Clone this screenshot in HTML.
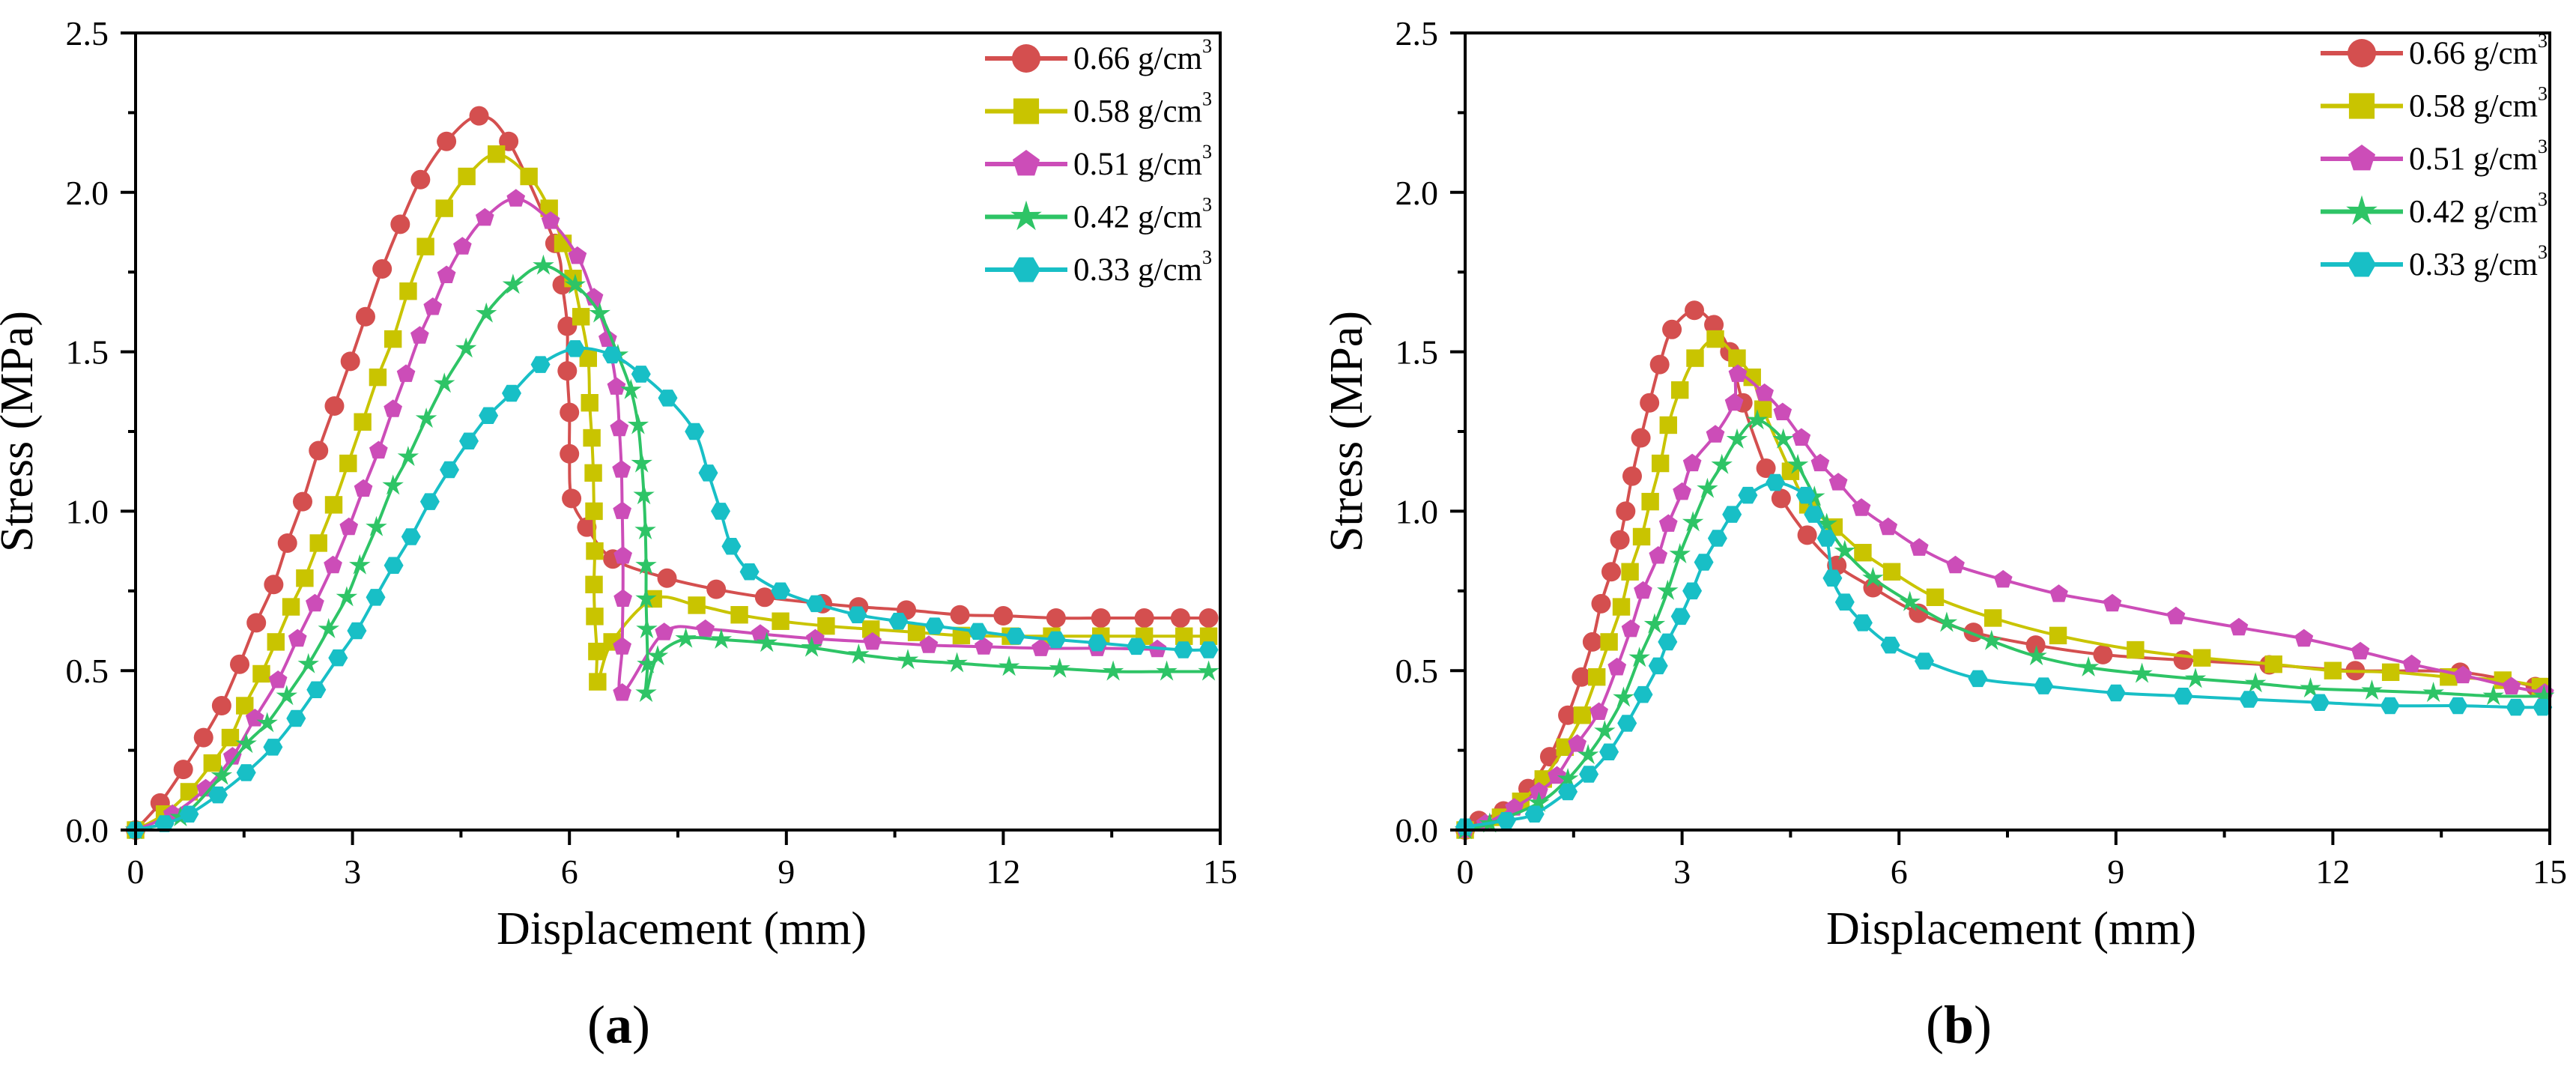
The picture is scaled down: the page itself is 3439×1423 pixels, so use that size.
<!DOCTYPE html>
<html><head><meta charset="utf-8"><style>
html,body{margin:0;padding:0;background:#fff}
svg{display:block}
text{font-family:"Liberation Serif",serif;fill:#000}
</style></head><body>
<svg id="fig" width="3439" height="1423" viewBox="0 0 3439 1423" xmlns="http://www.w3.org/2000/svg"></svg>
<script>
const xTicks=[0,3,6,9,12,15];
const yTicks=[0.0,0.5,1.0,1.5,2.0,2.5];
const yTickLabels=["0.0","0.5","1.0","1.5","2.0","2.5"];
const seriesNames=["0.66","0.58","0.51","0.42","0.33"];
const seriesColors=["#d44f4f","#c9c400","#cc4db8","#2ec466","#18bfc6"];
const seriesShapes=["circle","square","pentagon","star","hexagon"];

// Panel (a)
const aRedX=[0,0.34,0.66,0.94,1.19,1.44,1.67,1.91,2.10,2.31,2.53,2.75,2.97,3.18,3.41,3.66,3.94,4.30,4.75,5.16,5.8,5.9,5.97,5.97,6.0,6.0,6.03,6.24,6.6,7.35,8.03,8.7,9.5,10.0,10.66,11.4,12.0,12.73,13.35,13.95,14.45,14.84];
const aRedY=[0,0.085,0.19,0.29,0.39,0.52,0.65,0.77,0.90,1.03,1.19,1.33,1.47,1.61,1.76,1.90,2.04,2.16,2.24,2.16,1.84,1.71,1.58,1.44,1.31,1.18,1.04,0.95,0.85,0.79,0.755,0.73,0.71,0.70,0.69,0.675,0.672,0.665,0.665,0.665,0.665,0.665];
const aYelX=[0,0.4,0.74,1.06,1.31,1.51,1.74,1.94,2.15,2.34,2.53,2.74,2.94,3.14,3.35,3.56,3.77,4.01,4.27,4.58,4.99,5.44,5.72,5.91,6.05,6.16,6.26,6.28,6.31,6.33,6.34,6.35,6.34,6.35,6.38,6.39,6.59,7.16,7.76,8.35,8.92,9.55,10.17,10.8,11.42,12.1,12.67,13.35,13.95,14.5,14.84];
const aYelY=[0,0.05,0.12,0.21,0.29,0.39,0.49,0.59,0.70,0.79,0.90,1.02,1.15,1.28,1.42,1.54,1.69,1.83,1.95,2.05,2.12,2.05,1.95,1.84,1.73,1.61,1.48,1.34,1.23,1.12,1.0,0.875,0.77,0.67,0.56,0.465,0.59,0.725,0.705,0.675,0.655,0.64,0.63,0.62,0.61,0.608,0.608,0.608,0.608,0.608,0.608];
const aMagX=[0,0.51,0.97,1.34,1.65,1.97,2.24,2.48,2.73,2.95,3.15,3.36,3.56,3.74,3.93,4.11,4.30,4.52,4.83,5.26,5.74,6.11,6.34,6.53,6.65,6.69,6.72,6.73,6.74,6.74,6.73,6.73,7.31,7.88,8.64,9.4,10.19,10.97,11.73,12.52,13.3,14.13];
const aMagY=[0,0.05,0.13,0.23,0.35,0.47,0.60,0.71,0.83,0.95,1.07,1.19,1.32,1.43,1.55,1.64,1.74,1.83,1.92,1.98,1.91,1.80,1.67,1.54,1.39,1.26,1.13,1.00,0.86,0.725,0.575,0.43,0.62,0.63,0.615,0.60,0.59,0.58,0.575,0.57,0.57,0.567];
const aGrnX=[0,0.62,1.19,1.53,1.82,2.09,2.39,2.67,2.92,3.10,3.33,3.56,3.77,4.02,4.27,4.57,4.85,5.22,5.64,6.08,6.42,6.67,6.85,6.95,7.0,7.03,7.05,7.06,7.06,7.07,7.08,7.06,7.22,7.61,8.1,8.73,9.35,10.0,10.68,11.36,12.08,12.78,13.52,14.26,14.84];
const aGrnY=[0,0.04,0.17,0.27,0.335,0.42,0.52,0.63,0.73,0.83,0.95,1.08,1.17,1.29,1.40,1.51,1.62,1.71,1.77,1.71,1.62,1.49,1.38,1.27,1.15,1.05,0.94,0.83,0.725,0.63,0.52,0.43,0.545,0.60,0.597,0.587,0.572,0.55,0.533,0.523,0.512,0.506,0.497,0.497,0.497];
const aCynX=[0,0.4,0.74,1.14,1.53,1.9,2.22,2.5,2.8,3.06,3.32,3.57,3.81,4.07,4.34,4.61,4.88,5.2,5.6,6.08,6.59,6.99,7.36,7.73,7.92,8.09,8.24,8.49,8.92,9.41,9.98,10.55,11.05,11.65,12.17,12.73,13.3,13.84,14.49,14.84];
const aCynY=[0,0.02,0.05,0.11,0.18,0.26,0.35,0.44,0.54,0.625,0.73,0.83,0.92,1.03,1.13,1.22,1.30,1.37,1.46,1.51,1.49,1.43,1.355,1.25,1.12,1.0,0.89,0.81,0.75,0.71,0.675,0.655,0.64,0.623,0.608,0.597,0.587,0.576,0.565,0.565];

// Panel (b)
const bRedX=[0,0.19,0.53,0.87,1.17,1.42,1.61,1.76,1.88,2.02,2.14,2.22,2.31,2.43,2.55,2.69,2.86,3.17,3.44,3.66,3.84,4.16,4.37,4.73,5.14,5.64,6.27,7.03,7.89,8.82,9.93,11.12,12.31,13.76,14.8];
const bRedY=[0,0.03,0.06,0.13,0.23,0.36,0.48,0.59,0.71,0.81,0.91,1.0,1.11,1.23,1.34,1.46,1.57,1.63,1.585,1.50,1.34,1.135,1.04,0.925,0.83,0.76,0.68,0.62,0.58,0.55,0.533,0.518,0.50,0.495,0.45];
const bYelX=[0,0.49,0.77,1.08,1.38,1.62,1.82,1.99,2.16,2.28,2.44,2.56,2.70,2.81,2.97,3.18,3.46,3.76,3.97,4.12,4.5,4.74,5.1,5.5,5.9,6.5,7.3,8.2,9.27,10.19,11.18,12.0,12.8,13.6,14.35,14.87];
const bYelY=[0,0.04,0.09,0.16,0.26,0.36,0.48,0.59,0.70,0.81,0.92,1.03,1.15,1.27,1.38,1.48,1.54,1.48,1.42,1.32,1.125,1.02,0.95,0.87,0.81,0.73,0.665,0.61,0.565,0.54,0.52,0.50,0.495,0.48,0.47,0.45];
const bMagX=[0,0.28,0.68,1.02,1.27,1.55,1.85,2.1,2.29,2.46,2.67,2.81,3.0,3.14,3.46,3.72,3.77,4.14,4.39,4.65,4.91,5.16,5.48,5.85,6.28,6.78,7.44,8.21,8.95,9.83,10.7,11.6,12.38,13.09,13.8,14.47,14.93];
const bMagY=[0,0.02,0.07,0.12,0.17,0.27,0.37,0.51,0.63,0.75,0.86,0.96,1.06,1.15,1.24,1.34,1.43,1.37,1.31,1.23,1.15,1.09,1.01,0.95,0.885,0.83,0.785,0.74,0.71,0.67,0.635,0.60,0.56,0.52,0.485,0.45,0.43];
const bGrnX=[0,0.34,1.02,1.42,1.7,1.93,2.19,2.41,2.62,2.80,2.97,3.15,3.35,3.55,3.76,4.04,4.4,4.6,4.83,5.0,5.25,5.64,6.15,6.66,7.28,7.9,8.62,9.36,10.1,10.93,11.69,12.54,13.39,14.22,14.92];
const bGrnY=[0,0.02,0.085,0.16,0.235,0.31,0.415,0.54,0.645,0.75,0.865,0.965,1.07,1.145,1.225,1.285,1.225,1.145,1.045,0.96,0.875,0.79,0.715,0.65,0.593,0.545,0.51,0.49,0.474,0.46,0.444,0.437,0.43,0.42,0.42];
const bCynX=[0,0.57,0.96,1.42,1.71,1.99,2.24,2.46,2.67,2.80,2.98,3.14,3.30,3.49,3.69,3.91,4.29,4.71,4.82,5.0,5.08,5.25,5.5,5.88,6.35,7.09,8.0,9.0,9.93,10.84,11.82,12.79,13.73,14.53,14.9];
const bCynY=[0.01,0.03,0.05,0.12,0.175,0.245,0.335,0.425,0.515,0.59,0.67,0.75,0.84,0.915,0.99,1.05,1.09,1.05,0.99,0.915,0.79,0.715,0.65,0.58,0.53,0.475,0.452,0.43,0.42,0.41,0.40,0.39,0.39,0.385,0.385];

const NS="http://www.w3.org/2000/svg";
const svg=document.getElementById('fig');
function mk(tag,attrs,parent){const e=document.createElementNS(NS,tag);for(const k in attrs)e.setAttribute(k,attrs[k]);(parent||svg).appendChild(e);return e;}

function markerPath(shape,cx,cy,r){
  let pts=[];
  if(shape==="pentagon"){for(let i=0;i<5;i++){const a=-Math.PI/2+i*2*Math.PI/5;pts.push([cx+r*Math.cos(a),cy+r*Math.sin(a)]);}}
  else if(shape==="hexagon"){for(let i=0;i<6;i++){const a=i*Math.PI/3;pts.push([cx+r*Math.cos(a),cy+r*Math.sin(a)]);}}
  else if(shape==="star"){for(let i=0;i<10;i++){const a=-Math.PI/2+i*Math.PI/5;const rr=i%2?r*0.42:r*1.15;pts.push([cx+rr*Math.cos(a),cy+rr*Math.sin(a)]);}}
  return "M"+pts.map(p=>p[0].toFixed(1)+","+p[1].toFixed(1)).join("L")+"Z";
}
function drawMarker(g,shape,cx,cy,r,color){
  let m;
  if(shape==="circle") m=mk('circle',{cx:cx,cy:cy,r:r,fill:color},g);
  else if(shape==="square") m=mk('rect',{x:cx-r*0.9,y:cy-r*0.9,width:r*1.8,height:r*1.8,fill:color},g);
  else m=mk('path',{d:markerPath(shape,cx,cy,r),fill:color},g);
  return m;
}
function smoothPath(pts){
  let d="M"+pts[0][0].toFixed(1)+","+pts[0][1].toFixed(1);
  for(let i=0;i<pts.length-1;i++){
    const p0=pts[Math.max(0,i-1)],p1=pts[i],p2=pts[i+1],p3=pts[Math.min(pts.length-1,i+2)];
    const c1=[p1[0]+(p2[0]-p0[0])/6,p1[1]+(p2[1]-p0[1])/6];
    const c2=[p2[0]-(p3[0]-p1[0])/6,p2[1]-(p3[1]-p1[1])/6];
    d+="C"+c1[0].toFixed(1)+","+c1[1].toFixed(1)+" "+c2[0].toFixed(1)+","+c2[1].toFixed(1)+" "+p2[0].toFixed(1)+","+p2[1].toFixed(1);
  }
  return d;
}

function panel(id,x0,x1,y0,y1,data,legX,legY,label,labelX){
  const g=mk('g',{});
  
  
  const sx=v=>x0+(v/15)*(x1-x0);
  const sy=v=>y0-(v/2.5)*(y0-y1);
  // series
  data.forEach((s,i)=>{
    const sg=mk('g',{},g);
    
    
    const pts=s[0].map((xv,k)=>[sx(xv),sy(s[1][k])]);
    const ln=mk('path',{d:smoothPath(pts),fill:'none',stroke:seriesColors[i],'stroke-width':4},sg);
    
    
    pts.forEach(p=>{
      const m=drawMarker(sg,seriesShapes[i],p[0],p[1],13,seriesColors[i]);
      
      
    });
  });
  // frame
  const fr=mk('rect',{x:x0,y:y1,width:x1-x0,height:y0-y1,fill:'none',stroke:'#000','stroke-width':4},g);
  
  
  // x ticks
  xTicks.forEach((t,i)=>{
    const X=sx(t);
    const tk=mk('line',{x1:X,y1:y0,x2:X,y2:y0+20,stroke:'#000','stroke-width':4},g);
    
    
    if(i<xTicks.length-1){const Xm=sx(t+1.5);const mt=mk('line',{x1:Xm,y1:y0,x2:Xm,y2:y0+10,stroke:'#000','stroke-width':4},g);
      
      }
    const tl=mk('text',{x:X,y:y0+71,'font-size':46,'text-anchor':'middle'},g);tl.textContent=String(t);
    
    
  });
  yTicks.forEach((t,i)=>{
    const Y=sy(t);
    const tk=mk('line',{x1:x0-20,y1:Y,x2:x0,y2:Y,stroke:'#000','stroke-width':4},g);
    
    
    if(i<yTicks.length-1){const Ym=sy(t+0.25);const mt=mk('line',{x1:x0-10,y1:Ym,x2:x0,y2:Ym,stroke:'#000','stroke-width':4},g);
      
      }
    const tl=mk('text',{x:x0-36,y:Y+16,'font-size':46,'text-anchor':'end'},g);tl.textContent=yTickLabels[i];
    
    
  });
  const xt=mk('text',{x:(x0+x1)/2+5,y:y0+152,'font-size':62,'text-anchor':'middle'},g);xt.textContent='Displacement (mm)';
  
  
  const yx=x0-138, yy=(y0+y1)/2;
  const yt=mk('text',{x:yx,y:yy,'font-size':62,'text-anchor':'middle',transform:'rotate(-90 '+yx+' '+yy+')'},g);yt.textContent='Stress (MPa)';
  
  
  // legend
  const lg=mk('g',{},g);
  
  
  seriesNames.forEach((n,i)=>{
    const Y=legY+i*70.5;
    const eg=mk('g',{},lg);
    
    
    mk('line',{x1:legX,y1:Y,x2:legX+110,y2:Y,stroke:seriesColors[i],'stroke-width':6},eg);
    drawMarker(eg,seriesShapes[i],legX+55,Y,19,seriesColors[i]);
    const t=mk('text',{x:legX+118,y:Y+14,'font-size':43,textLength:185,lengthAdjust:'spacingAndGlyphs'},eg);
    t.textContent=n+' g/cm';
    const sp=mk('tspan',{'font-size':26,dy:-22},t);sp.textContent='3';
  });
  const pl=mk('text',{x:labelX,y:1392,'font-size':72,'text-anchor':'middle'},g);
  
  
  pl.appendChild(document.createTextNode('('));
  const b=mk('tspan',{'font-weight':'bold'},pl);b.textContent=label;
  pl.appendChild(document.createTextNode(')'));
}

panel('a',181,1629,1108,44,[[aRedX,aRedY],[aYelX,aYelY],[aMagX,aMagY],[aGrnX,aGrnY],[aCynX,aCynY]],1315,78,'a',826);
panel('b',1956,3404,1108,44,[[bRedX,bRedY],[bYelX,bYelY],[bMagX,bMagY],[bGrnX,bGrnY],[bCynX,bCynY]],3098,71,'b',2615);
</script>
</body></html>
